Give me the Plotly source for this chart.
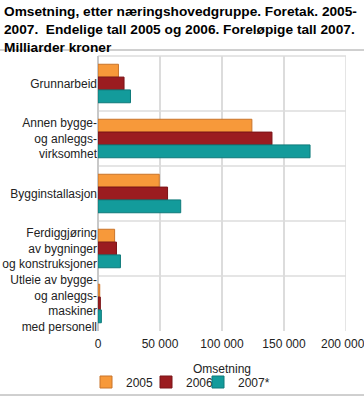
import plotly.graph_objects as go

categories = [
    "Grunnarbeid",
    "Annen bygge-<br>og anleggs-<br>virksomhet",
    "Bygginstallasjon",
    "Ferdiggjøring<br>av bygninger<br>og konstruksjoner",
    "Utleie av bygge-<br>og anleggs-<br>maskiner<br>med personell",
]
series_names = ["2005", "2006", "2007*"]
values_2005 = [16500, 124100, 49400, 13400, 1400]
values_2006 = [21000, 140300, 56100, 14900, 1900]
values_2007 = [26200, 171000, 66700, 18100, 2700]
colors = ["#f7993a", "#9b1c20", "#139b9b"]
line_colors = ["#c9742a", "#7a1418", "#0e7a7a"]
x_ticks = [0, 50000, 100000, 150000, 200000]
x_tick_labels = ["0", "50 000", "100 000", "150 000",
                 "200 000<span style='color:rgba(0,0,0,0)'>0</span>"]
title_text = ("<b>Omsetning, etter næringshovedgruppe. Foretak. 2005-<br>"
              "2007.  Endelige tall 2005 og 2006. Foreløpige tall 2007.<br>"
              "Milliarder kroner</b>")

W, H = 364, 397
ml, mr, mt, mb = 98, 18, 56, 66
pw, ph = W - ml - mr, H - mt - mb

def px_x(x):
    return (x - ml) / pw

def px_y(y):
    return (H - mb - y) / ph

legend_ids = ["legend2", "legend3", "legend4"]
legend_px = [86, 146, 198]

fig = go.Figure()
for name, vals, c, lc, lid in zip(series_names, [values_2005, values_2006, values_2007],
                                  colors, line_colors, legend_ids):
    fig.add_trace(go.Bar(
        y=categories, x=vals, name=name, orientation="h", legend=lid,
        marker=dict(color=c, line=dict(color=lc, width=1)),
    ))

shapes = []
for i in range(len(categories) - 1):
    shapes.append(dict(type="line", xref="paper", yref="y", x0=0, x1=1, y0=i + 0.5, y1=i + 0.5,
                       line=dict(color="#dcdcdc", width=1.5), layer="below"))
shapes.append(dict(type="line", xref="paper", yref="paper", x0=0, x1=1, y0=1, y1=1,
                   line=dict(color="#dcdcdc", width=1.5), layer="below"))
shapes.append(dict(type="line", xref="x", yref="paper", x0=x_ticks[-1], x1=x_ticks[-1], y0=0, y1=1,
                   line=dict(color="#dcdcdc", width=1.5), layer="below"))
for ypx in [50, 395]:
    shapes.append(dict(type="line", xref="paper", yref="paper", x0=px_x(0), x1=px_x(W),
                       y0=px_y(ypx), y1=px_y(ypx), line=dict(color="#a0a0a0", width=1)))

legend_common = dict(orientation="h", xanchor="left", yanchor="middle", y=px_y(382),
                     font=dict(size=12), itemwidth=30, bgcolor="rgba(0,0,0,0)", visible=True)

fig.update_layout(
    width=W, height=H,
    margin=dict(l=ml, r=mr, t=mt, b=mb, pad=0, autoexpand=False),
    paper_bgcolor="white", plot_bgcolor="white",
    font=dict(family="Liberation Sans, Arial, sans-serif", size=12, color="#222"),
    barmode="group", bargap=0.3, bargroupgap=0,
    showlegend=True,
    xaxis=dict(
        range=[0, 200000], autorange=False, tickvals=x_ticks, ticktext=x_tick_labels,
        showgrid=True, gridcolor="#dcdcdc", gridwidth=1.5,
        zeroline=True, zerolinecolor="#c8c8c8", zerolinewidth=1.5,
        showline=False, ticks="", automargin=False, ticklabelstandoff=4,
        ticklabeloverflow="allow",
        title=dict(text="Omsetning", standoff=14, font=dict(size=12)),
        tickfont=dict(size=12),
    ),
    yaxis=dict(
        autorange="reversed", showgrid=False, ticks="", showline=False,
        tickfont=dict(size=12), automargin=False,
    ),
    legend2=dict(x=px_x(legend_px[0]), **legend_common),
    legend3=dict(x=px_x(legend_px[1]), **legend_common),
    legend4=dict(x=px_x(legend_px[2]), **legend_common),
    annotations=[dict(
        text=title_text, xref="paper", yref="paper", x=px_x(2), y=px_y(2),
        xanchor="left", yanchor="top", align="left", showarrow=False,
        font=dict(size=13.7, color="#000"),
    )],
    shapes=shapes,
)

fig.write_html(
    "out.html",
    config={"displayModeBar": False},
    post_script="document.body.style.margin='0';document.body.style.overflow='hidden';",
)
